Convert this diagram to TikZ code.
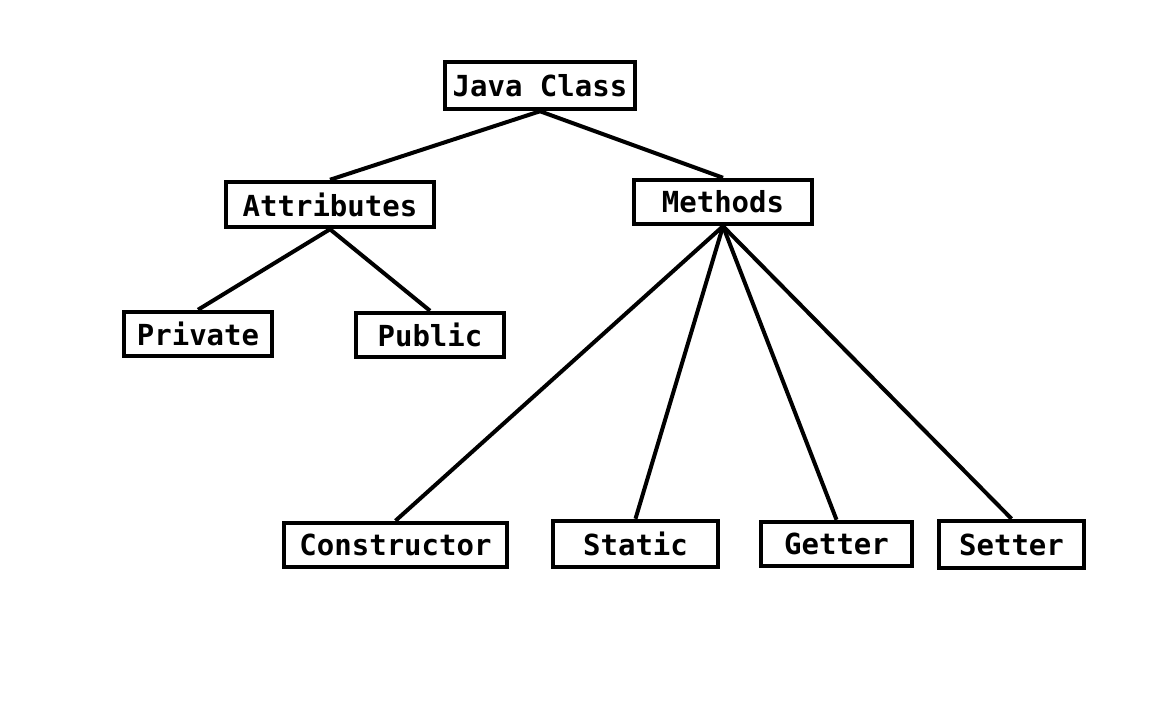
\documentclass[tikz,border=0pt]{standalone}
\usepackage{fontspec}
\setmonofont{DejaVu Sans Mono}
\begin{document}
\begin{tikzpicture}[x=1pt,y=-1pt,
  box/.style={draw=black,line width=4.5pt,fill=white,inner sep=0pt,
    font=\ttfamily\bfseries\fontsize{29}{32}\selectfont,text=black},
  link/.style={line width=4pt,draw=black}]
\useasboundingbox[fill=white] (0,0) rectangle (1152,720);
\node[box,minimum width=190,minimum height=47] (jc) at (540,85.5) {Java Class};
\node[box,minimum width=208,minimum height=45] (attr) at (330,204.5) {Attributes};
\node[box,minimum width=178,minimum height=44] (meth) at (723,202) {Methods};
\node[box,minimum width=148,minimum height=44] (priv) at (198,334) {Private};
\node[box,minimum width=148,minimum height=44] (pub) at (430,335) {Public};
\node[box,minimum width=223,minimum height=44] (cons) at (395.5,545) {Constructor};
\node[box,minimum width=165,minimum height=46] (stat) at (635.5,544) {Static};
\node[box,minimum width=151,minimum height=44] (get) at (836.5,544) {Getter};
\node[box,minimum width=145,minimum height=47] (set) at (1011.5,544.5) {Setter};
\draw[link] (jc.south) -- (attr.north);
\draw[link] (jc.south) -- (meth.north);
\draw[link] (attr.south) -- (priv.north);
\draw[link] (attr.south) -- (pub.north);
\draw[link] (meth.south) -- (cons.north);
\draw[link] (meth.south) -- (stat.north);
\draw[link] (meth.south) -- (get.north);
\draw[link] (meth.south) -- (set.north);
\end{tikzpicture}
\end{document}
